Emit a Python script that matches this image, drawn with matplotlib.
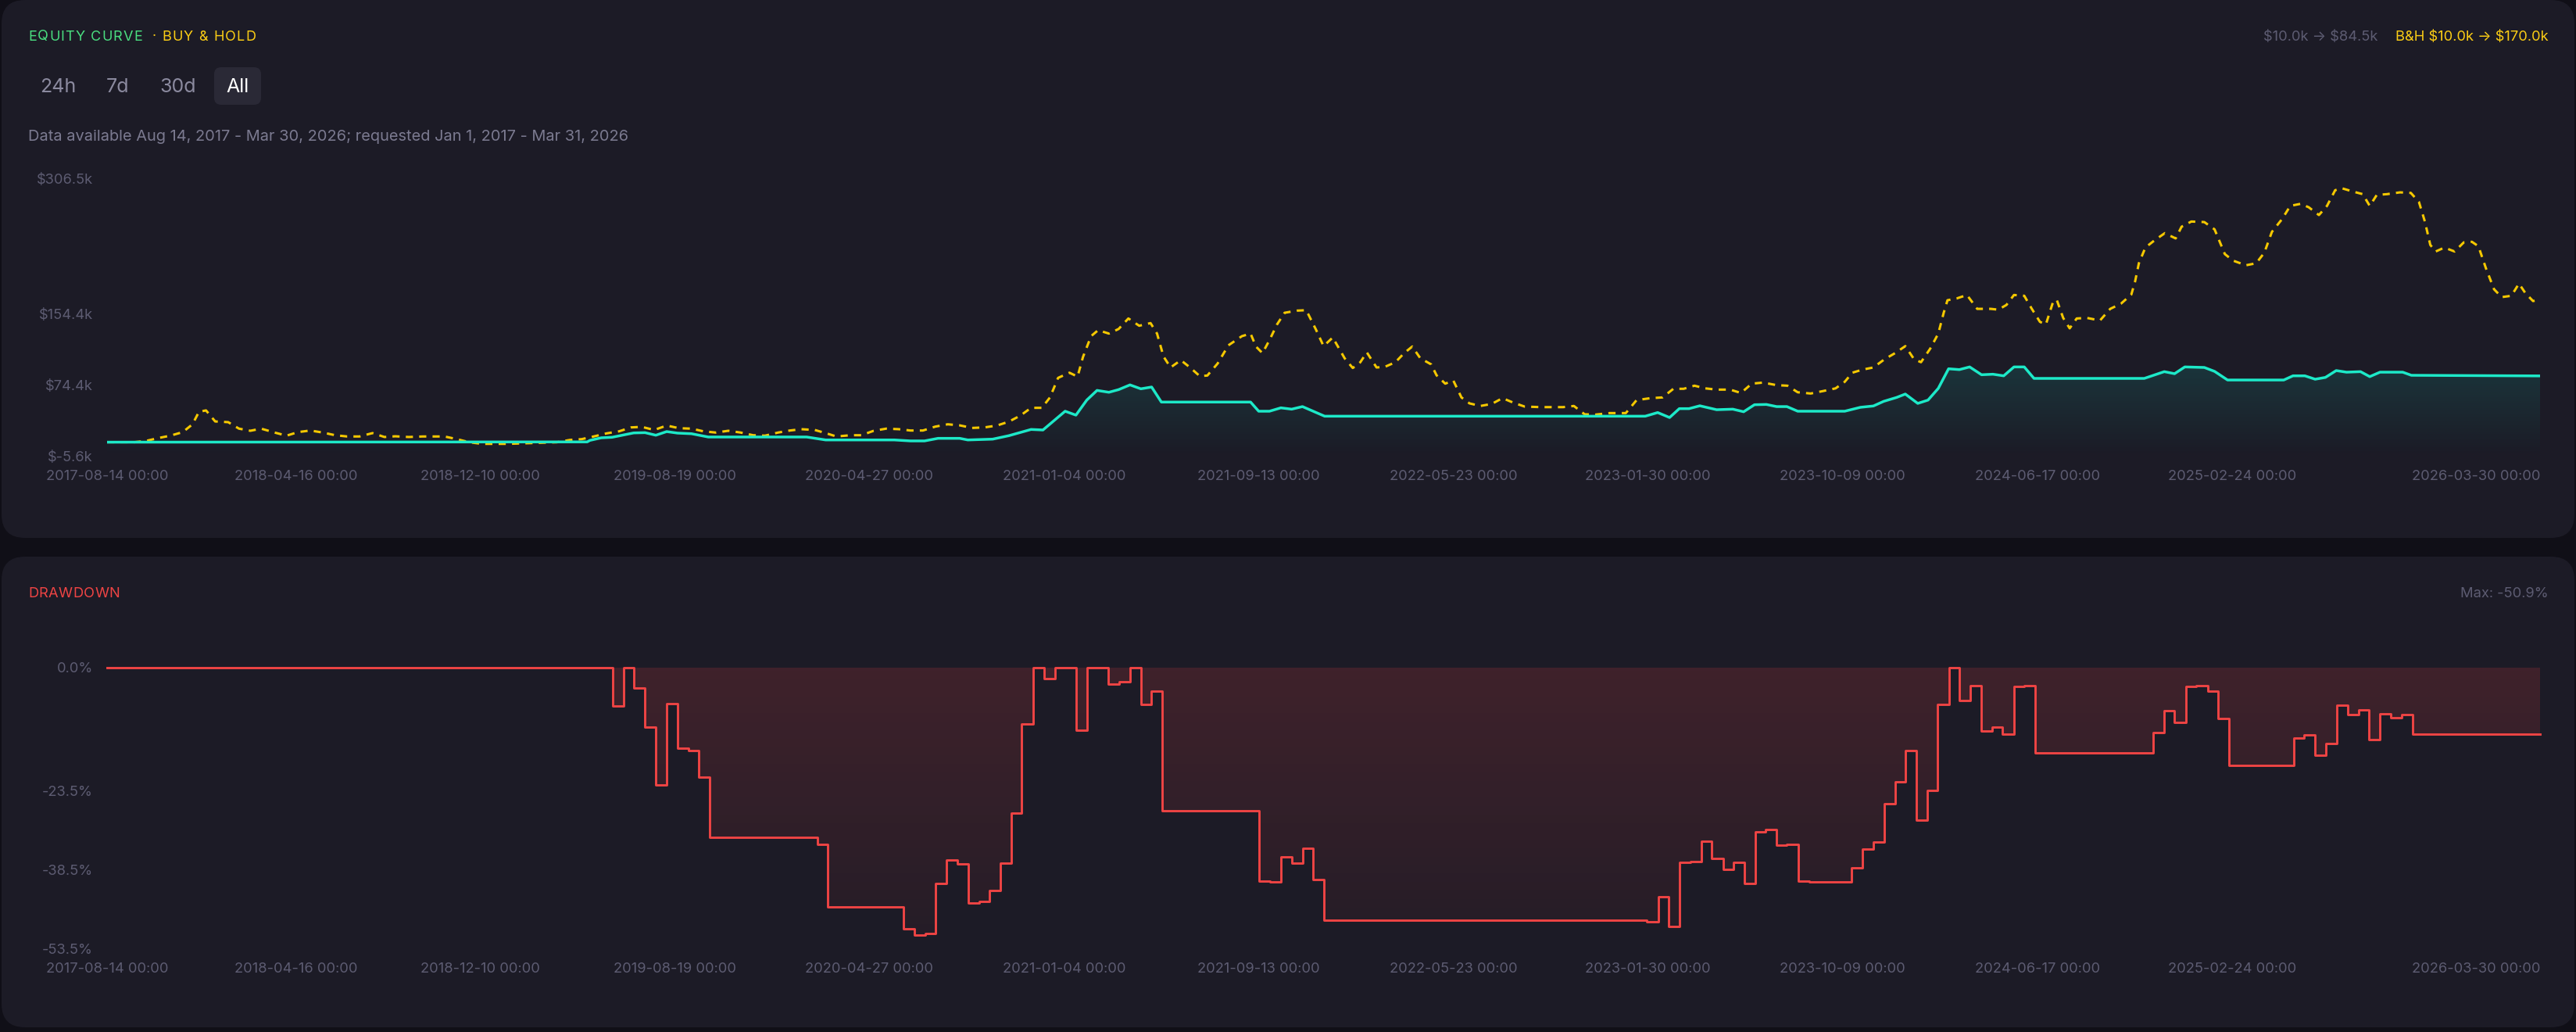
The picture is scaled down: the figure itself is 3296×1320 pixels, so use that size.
import numpy as np
import pandas as pd
import matplotlib
matplotlib.use("Agg")
import matplotlib.pyplot as plt
import matplotlib.dates as mdates
from matplotlib.patches import FancyBboxPatch

# ---------------- data ----------------
start_date = "2017-08-14"
tick_dates = ["2017-08-14", "2018-04-16", "2018-12-10", "2019-08-19", "2020-04-27",
              "2021-01-04", "2021-09-13", "2022-05-23", "2023-01-30", "2023-10-09",
              "2024-06-17", "2025-02-24", "2026-03-30"]
tick_labels = [d + " 00:00" for d in tick_dates]

# strategy equity ($k), x = weeks since start
eq_weeks = [0, 88.8, 89.3, 91.4, 93.4, 97.4, 99.5, 101.5, 103.5, 105.5,
            108.1, 111.2, 129.4, 132.9, 145.6, 148.6, 151.2, 153.7, 157.7, 159.2,
            163.8, 166.8, 170.9, 173.1, 177.2, 179.2, 181.2, 183.1, 185.3, 187.1,
            189.2, 191.2, 193.2, 195.0, 211.5, 213.0, 215.0, 217.1, 219.1, 221.1,
            225.2, 284.5, 286.8, 289.0, 290.8, 292.6, 294.6, 297.7, 300.7, 302.7,
            304.7, 306.9, 308.8, 310.7, 312.7, 321.4, 324.3, 326.7, 328.6, 331.0,
            332.6, 334.9, 336.8, 338.7, 340.6, 342.6, 344.5, 346.7, 348.8, 350.8,
            352.7, 354.6, 356.4, 376.8, 380.5, 382.4, 384.3, 387.9, 389.8, 392.2,
            402.6, 404.3, 406.5, 408.4, 410.3, 412.3, 414.2, 416.8, 418.5, 420.4,
            424.6, 426.2, 450]
eq_vals = [10.0, 10.3, 12.0, 14.9, 15.5, 20.4, 20.7, 17.8, 21.9, 20.2,
           19.5, 15.8, 15.8, 12.5, 12.5, 11.4, 11.4, 14.3, 14.3, 12.5,
           13.4, 17.3, 24.3, 23.7, 44.8, 40.4, 57.3, 68.2, 66.1, 69.1,
           74.4, 70.0, 72.0, 55.1, 55.1, 44.8, 44.8, 48.6, 47.1, 50.0,
           39.2, 39.2, 43.3, 37.7, 47.7, 47.7, 50.9, 46.5, 47.1, 44.2,
           52.1, 52.4, 50.0, 50.0, 44.8, 44.8, 49.2, 50.7, 55.9, 60.3,
           64.1, 53.6, 57.3, 70.5, 92.5, 91.6, 94.6, 85.8, 86.4, 84.6,
           94.6, 94.6, 81.7, 81.7, 89.3, 87.0, 94.6, 94.0, 89.6, 79.9,
           79.9, 84.6, 84.6, 80.8, 82.8, 90.5, 88.7, 89.3, 83.7, 88.7,
           88.7, 85.2, 84.5]

# buy & hold ($k)
bh_weeks = [0, 5.1, 7.2, 9.7, 11.7, 14.0, 15.8, 17.0, 18.3, 20.0,
            22.4, 24.4, 26.5, 28.5, 31.0, 33.2, 35.3, 37.6, 39.9, 42.2,
            44.4, 46.7, 49.1, 51.3, 53.3, 55.8, 58.4, 62.4, 64.7, 67.0,
            69.3, 74.1, 78.6, 83.2, 85.6, 87.8, 90.0, 92.4, 94.7, 96.9,
            98.9, 101.2, 103.5, 105.8, 108.1, 110.3, 112.6, 114.9, 117.2, 119.5,
            121.7, 124.1, 126.3, 128.4, 130.9, 132.9, 134.9, 137.5, 139.5, 141.8,
            144.1, 146.4, 148.6, 150.9, 153.2, 155.5, 157.7, 160.0, 162.3, 164.6,
            166.8, 168.9, 170.9, 172.9, 174.4, 175.9, 178.0, 179.5, 180.5, 182.0,
            183.3, 185.3, 187.1, 188.9, 190.9, 193.0, 194.2, 195.4, 196.7, 198.6,
            200.3, 202.1, 203.5, 205.4, 207.4, 209.9, 211.5, 212.5, 213.7, 215.0,
            216.4, 217.8, 220.1, 221.8, 223.6, 225.0, 226.7, 228.9, 230.4, 231.8,
            233.0, 234.8, 236.3, 238.3, 239.9, 241.4, 242.9, 244.9, 245.9, 247.5,
            249.0, 250.5, 252.0, 254.0, 256.1, 258.1, 260.1, 262.2, 265.2, 269.3,
            271.3, 273.3, 275.3, 277.9, 280.9, 282.9, 285.5, 287.7, 289.7, 291.6,
            293.6, 295.6, 297.7, 300.2, 302.2, 304.2, 306.3, 308.8, 310.8, 312.7,
            315.1, 317.5, 319.7, 321.4, 322.8, 324.7, 326.7, 328.8, 330.7, 332.6,
            334.2, 335.5, 337.2, 338.7, 339.7, 340.4, 342.1, 344.0, 345.9, 348.4,
            349.8, 351.3, 352.7, 354.6, 356.0, 357.5, 358.6, 359.9, 360.6, 361.8,
            363.0, 364.3, 366.2, 368.6, 370.5, 372.5, 374.4, 375.1, 375.8, 377.0,
            378.7, 380.6, 382.6, 383.7, 385.5, 387.9, 389.8, 390.8, 391.7, 393.2,
            395.6, 397.5, 399.0, 400.4, 402.3, 403.8, 405.7, 407.2, 409.1, 410.6,
            412.1, 413.3, 415.4, 417.2, 418.5, 419.8, 421.7, 424.1, 426.1, 427.6,
            428.7, 429.7, 430.7, 432.3, 434.2, 435.9, 437.4, 438.6, 440.0, 441.5,
            442.9, 444.7, 446.1, 447.3, 448.7, 450.0]
bh_vals = [10.0, 10.0, 11.4, 14.9, 17.3, 21.3, 30.1, 44.2, 45.7, 33.3,
           32.5, 25.2, 22.8, 25.2, 20.8, 17.3, 21.3, 23.1, 20.8, 17.8,
           16.4, 16.4, 20.2, 15.8, 16.6, 15.8, 16.4, 16.4, 13.4, 9.9,
           8.1, 8.1, 9.0, 9.9, 12.5, 13.4, 16.4, 19.9, 22.2, 26.6,
           27.2, 23.7, 28.7, 25.7, 25.2, 22.2, 20.8, 22.8, 20.8, 17.8,
           17.3, 20.8, 23.1, 24.6, 23.7, 20.2, 16.4, 17.8, 17.8, 22.8,
           25.2, 24.6, 23.1, 23.1, 27.5, 30.1, 28.9, 26.0, 26.6, 28.7,
           33.1, 39.8, 48.6, 48.6, 60.3, 82.3, 88.1, 83.7, 105.7, 129.2,
           135.9, 132.1, 137.3, 149.1, 140.9, 143.9, 132.1, 106.3, 94.0, 102.2,
           94.0, 84.3, 84.9, 98.4, 118.9, 129.2, 132.1, 117.5, 110.1, 124.8,
           142.4, 155.5, 157.9, 158.4, 136.5, 118.0, 127.7, 104.3, 93.4, 99.9,
           111.0, 94.0, 94.6, 99.9, 110.1, 117.5, 104.3, 97.5, 85.2, 75.8,
           79.3, 60.3, 53.6, 50.7, 53.0, 59.5, 54.4, 50.0, 49.4, 49.4,
           50.7, 41.3, 41.0, 42.7, 42.7, 57.3, 59.5, 60.3, 70.0, 70.0,
           73.5, 70.5, 69.1, 69.1, 65.3, 75.8, 77.0, 74.1, 73.5, 66.1,
           64.7, 67.6, 70.5, 77.9, 88.1, 91.6, 94.0, 103.4, 110.1, 118.0,
           103.4, 99.9, 115.1, 132.1, 155.5, 169.6, 171.6, 175.5, 159.9, 159.9,
           159.0, 164.3, 175.5, 174.6, 159.9, 145.3, 142.4, 167.2, 170.2, 149.7,
           138.0, 149.1, 149.7, 146.8, 159.9, 165.8, 176.0, 190.7, 211.2, 228.8,
           237.0, 245.0, 239.1, 252.3, 258.1, 257.5, 249.3, 234.7, 221.5, 214.2,
           208.9, 211.2, 223.0, 246.4, 261.0, 275.7, 278.0, 274.2, 265.4, 275.7,
           293.3, 295.6, 291.8, 288.9, 275.7, 288.0, 288.9, 290.9, 290.3, 280.1,
           258.1, 231.8, 224.4, 228.8, 224.4, 234.7, 235.3, 230.3, 205.4, 181.9,
           173.1, 174.6, 188.3, 177.5, 168.7, 170.0]

# drawdown (%) step values, each holding from its week onward
dd_weeks = [0, 93.5, 95.5, 97.4, 99.45, 101.5, 103.5, 105.5, 107.5, 109.4,
            111.45, 131.4, 133.3, 147.3, 149.3, 151.35, 153.2, 155.25, 157.3, 159.3,
            161.3, 163.2, 165.2, 167.25, 169.1, 171.3, 173.3, 175.3, 179.25, 181.3,
            185.2, 187.2, 189.2, 191.25, 193.1, 195.15, 213.1, 215.1, 217.1, 219.15,
            221.2, 223.05, 225.1, 284.8, 286.9, 288.8, 290.8, 292.8, 294.9, 296.8,
            298.9, 300.8, 302.8, 304.8, 306.7, 308.8, 310.7, 312.8, 314.8, 322.7,
            324.7, 326.7, 328.7, 330.7, 332.6, 334.6, 336.7, 338.5, 340.7, 342.6,
            344.6, 346.6, 348.7, 350.5, 352.7, 354.6, 356.6, 378.4, 380.5, 382.4,
            384.5, 386.45, 388.5, 390.4, 392.5, 404.4, 406.4, 408.4, 410.4, 412.4,
            414.4, 416.4, 418.4, 420.4, 422.4, 424.4, 426.4, 450]
dd_vals = [0.0, -7.35, 0.0, -3.9, -11.4, -22.4, -6.9, -15.3, -15.8, -20.8,
           -32.4, -33.7, -45.6, -49.8, -50.9, -50.6, -41.2, -36.6, -37.4, -44.8,
           -44.5, -42.5, -37.3, -27.7, -10.7, 0.0, -2.1, 0.0, -11.9, 0.0,
           -3.1, -2.7, 0.0, -7.0, -4.5, -27.3, -40.7, -40.8, -36.1, -37.2,
           -34.4, -40.4, -48.1, -48.4, -43.7, -49.3, -37.1, -36.9, -33.1, -36.3,
           -38.4, -37.1, -41.2, -31.3, -30.9, -33.8, -33.7, -40.7, -40.8, -38.2,
           -34.6, -33.2, -26.0, -21.8, -15.8, -29.1, -23.4, -7.0, 0.0, -6.2,
           -3.4, -12.0, -11.4, -12.7, -3.6, -3.5, -16.3, -12.3, -8.2, -10.5,
           -3.6, -3.5, -4.4, -9.7, -18.7, -13.4, -12.8, -16.7, -14.4, -7.2,
           -9.0, -8.0, -13.7, -8.8, -9.6, -8.9, -12.6, -12.6]

eq_yticks = [-5.6, 74.4, 154.4, 306.5]
eq_ytick_labels = ["$-5.6k", "$74.4k", "$154.4k", "$306.5k"]
dd_yticks = [0.0, -23.5, -38.5, -53.5]
dd_ytick_labels = ["0.0%", "-23.5%", "-38.5%", "-53.5%"]

# ---------------- styling ----------------
W, H, DPI = 3296, 1320, 200
OUTER = "#100f17"
CARD = "#1c1b26"
GRID_TXT = "#5d5c72"
TEAL = "#1de9c8"
GOLD = "#f5c800"
RED = "#ef4444"

plt.rcParams["font.family"] = ["Inter", "DejaVu Sans"]

fig = plt.figure(figsize=(W / DPI, H / DPI), dpi=DPI)
fig.patch.set_facecolor(OUTER)

bg = fig.add_axes([0, 0, 1, 1], zorder=0)
bg.set_xlim(0, W)
bg.set_ylim(H, 0)
bg.axis("off")

for (x0, y0, x1, y1) in [(2, 0, 3294, 688), (2, 712, 3294, 1314)]:
    bg.add_patch(FancyBboxPatch((x0, y0), x1 - x0, y1 - y0,
                                boxstyle="round,pad=0,rounding_size=30",
                                fc=CARD, ec="none"))


def to_num(weeks):
    d = pd.Timestamp(start_date) + pd.to_timedelta(np.asarray(weeks, float) * 7, unit="D")
    return mdates.date2num(d.to_pydatetime())


xmin = to_num([0])[0]
xmax = to_num([450])[0]
tick_x = mdates.date2num(pd.to_datetime(tick_dates).to_pydatetime())


def style_axis(ax):
    ax.set_facecolor("none")
    for s in ax.spines.values():
        s.set_visible(False)
    ax.tick_params(length=0, colors=GRID_TXT, labelsize=6.6, pad=6.5)
    ax.set_xticks(tick_x)
    ax.set_xticklabels(tick_labels)
    lbls = ax.get_xticklabels()
    lbls[-1].set_ha("right")
    ax.set_xlim(xmin, xmax)


def px_axes(x0, y0, x1, y1):
    return fig.add_axes([x0 / W, 1 - y1 / H, (x1 - x0) / W, (y1 - y0) / H], zorder=2)


# ---------------- equity panel ----------------
ax1 = px_axes(137, 228.3, 3250, 583.3)
style_axis(ax1)
ax1.set_ylim(-5.6, 306.5)
ax1.set_yticks(eq_yticks)
ax1.set_yticklabels(eq_ytick_labels)

ex = to_num(eq_weeks)
bx = to_num(bh_weeks)
ey = np.array(eq_vals)

poly = ax1.fill_between(ex, ey, -5.6, color="none", lw=0)
top = max(eq_vals)
grad = np.zeros((256, 1, 4))
grad[:, 0, 0] = 0.08
grad[:, 0, 1] = 0.75
grad[:, 0, 2] = 0.68
grad[:, 0, 3] = np.linspace(0.16, 0.0, 256)
im = ax1.imshow(grad, extent=[xmin, xmax, -5.6, top], aspect="auto",
                origin="upper", zorder=1, interpolation="bilinear")
im.set_clip_path(poly.get_paths()[0], transform=ax1.transData)
ax1.set_xlim(xmin, xmax)
ax1.set_ylim(-5.6, 306.5)

ax1.plot(bx, bh_vals, color=GOLD, lw=1.1, ls=(0, (3.0, 2.6)), zorder=3,
         solid_capstyle="butt")
ax1.plot(ex, ey, color=TEAL, lw=1.25, zorder=4, solid_joinstyle="round")

# ---------------- drawdown panel ----------------
ax2 = px_axes(137, 854, 3250, 1213)
style_axis(ax2)
ax2.set_ylim(-53.5, 0)
ax2.set_yticks(dd_yticks)
ax2.set_yticklabels(dd_ytick_labels)

dx = to_num(dd_weeks)
dy = np.array(dd_vals)
poly2 = ax2.fill_between(dx, dy, 0, step="post", color="none", lw=0)
grad2 = np.zeros((256, 1, 4))
grad2[:, 0, 0] = 0.94
grad2[:, 0, 1] = 0.27
grad2[:, 0, 2] = 0.27
grad2[:, 0, 3] = np.linspace(0.17, 0.04, 256)
im2 = ax2.imshow(grad2, extent=[xmin, xmax, -53.5, 0], aspect="auto",
                 origin="upper", zorder=1, interpolation="bilinear")
im2.set_clip_path(poly2.get_paths()[0], transform=ax2.transData)
ax2.set_xlim(xmin, xmax)
ax2.set_ylim(-53.5, 0)
ax2.step(dx, dy, where="post", color=RED, lw=1.05, zorder=3, clip_on=False)

# ---------------- header texts ----------------
renderer = fig.canvas.get_renderer()


def text_width(s, **kw):
    t = bg.text(0, 0, s, **kw)
    w = t.get_window_extent(renderer=renderer).width
    t.remove()
    return w


def spaced_text(x, y, s, spacing, **kw):
    # draw text with letter spacing (pixels)
    ref = text_width("|", **kw)
    for i, ch in enumerate(s):
        off = text_width(s[:i] + "|", **kw) - ref if i > 0 else 0.0
        bg.text(x + off + i * spacing, y, ch, va="center", ha="left", **kw)


spaced_text(36, 47, "EQUITY CURVE", 1.1, color="#4ade80", fontsize=6.5)
spaced_text(195, 47, "\u00b7 BUY & HOLD", 1.1, color="#facc15", fontsize=6.5)
spaced_text(36, 760, "DRAWDOWN", 0.4, color=RED, fontsize=6.6)

bg.text(3261, 48, "B&H \\$10.0k \u2192 \\$170.0k", color="#facc15", fontsize=6.6,
        va="center", ha="right")
bg.text(3042, 48, "\\$10.0k \u2192 \\$84.5k", color=GRID_TXT, fontsize=6.6,
        va="center", ha="right")

for lbl, xx in [("24h", 51), ("7d", 136), ("30d", 204)]:
    bg.text(xx, 111, lbl, color="#8b8a9f", fontsize=9, va="center", ha="left")
bg.add_patch(FancyBboxPatch((274, 86), 60, 48, boxstyle="round,pad=0,rounding_size=9",
                            fc="#2a2936", ec="none"))
bg.text(304, 111, "All", color="#ffffff", fontsize=9, va="center", ha="center")

bg.text(36, 175, "Data available Aug 14, 2017 - Mar 30, 2026; requested Jan 1, 2017 - Mar 31, 2026",
        color="#7b7a90", fontsize=7.2, va="center", ha="left")

bg.text(3261, 760, "Max: -50.9%", color=GRID_TXT, fontsize=6.6, va="center", ha="right")

fig.savefig("out.png", dpi=DPI, facecolor=OUTER)
